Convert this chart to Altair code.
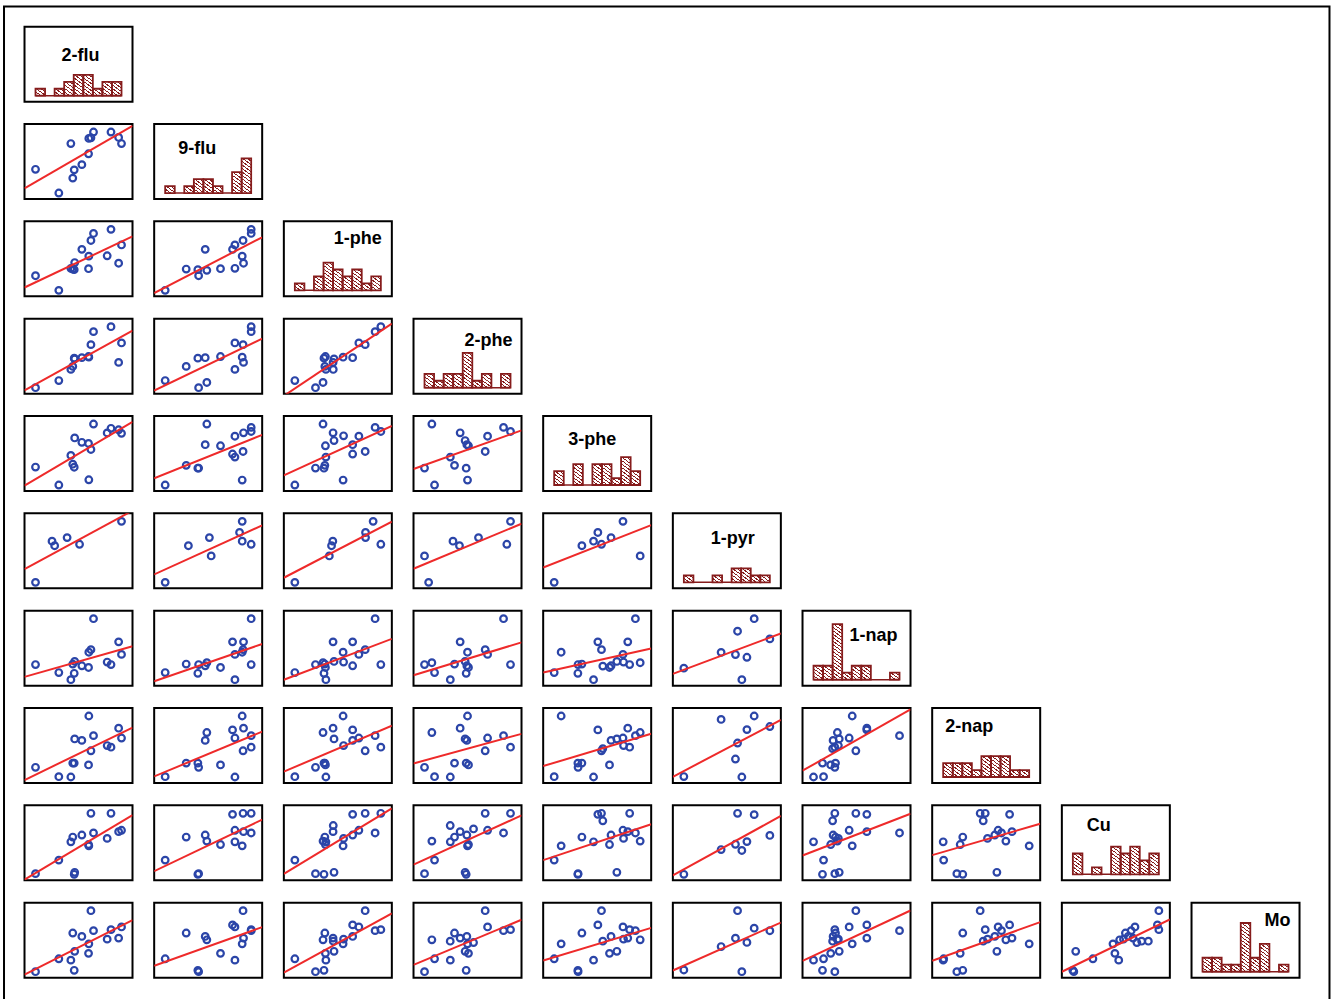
import altair as alt
import pandas as pd

# Lower-triangle scatterplot matrix of PAH metabolites and metals,
# with a histogram of each variable on the diagonal.

labels = ["2-flu", "9-flu", "1-phe", "2-phe", "3-phe", "1-pyr", "1-nap", "2-nap", "Cu", "Mo"]
keys = ["flu2", "flu9", "phe1", "phe2", "phe3", "pyr1", "nap1", "nap2", "cu", "mo"]

N = None  # not measured
flu2 = [5.8, N, 7.9, 9.0, 6.07, 3.9, 8.7, N, N, 5.58, N, 5.55, 3.7, 2.44, 4.1, 4.05, 0.0, 7.5, 4.85, N]
flu9 = [8.15, 7.05, 9.0, 7.3, 9.0, 2.2, 8.2, N, N, 8.06, 4.36, 5.79, 7.3, 0.0, N, 3.42, 3.5, N, 4.19, N]
phe1 = [7.36, 6.05, 9.0, 6.7, 8.4, 3.14, 4.0, 4.02, N, 5.05, 2.95, 3.2, 3.25, 0.0, 4.1, 3.05, 2.16, 5.1, 6.05, N]
phe2 = [6.35, N, 9.0, 6.6, 8.27, 3.14, 3.73, 2.69, N, 4.5, 0.77, 4.6, 2.7, 1.05, 4.25, 4.36, 0.0, N, 4.43, 5.13]
phe3 = [4.95, 4.57, 7.9, 7.2, 8.5, 2.9, 7.7, N, 5.09, 0.73, 9.0, 5.79, 4.12, 0.0, 6.56, 2.48, 2.5, 7.26, 5.95, N]
pyr1 = [5.62, 7.36, N, 9.0, N, 5.4, N, N, N, N, 3.9, N, 6.07, 0.0, N, N, N, N, 6.6, N]
nap1 = [4.43, 5.58, 2.23, 3.73, 9.0, 2.3, 5.58, N, 2.0, 4.05, 2.5, 1.8, 0.0, 1.05, 2.69, 0.94, 2.23, 2.6, 2.05, N]
nap2 = [3.87, 6.95, 4.4, 5.75, 6.1, 2.05, 7.2, N, 4.19, 9.0, 6.56, 1.78, 0.0, 0.05, 5.62, 2.05, 1.43, 4.64, 5.4, N]
cu = [9.0, 8.85, 9.0, 6.5, 6.1, 5.5, 6.3, 7.2, 7.9, 4.2, 4.9, 4.4, 4.8, 2.1, 0.3, 0.0, 0.1, 5.3, 5.8, 6.7]
mo = [9.0, 6.9, 6.2, 6.6, 6.05, 5.7, 4.95, 4.5, 4.5, 4.1, 4.7, 2.7, 1.7, 1.9, 3.0, 0.2, 0.0, 4.8, 5.2, 4.3]

columns = [flu2, flu9, phe1, phe2, phe3, pyr1, nap1, nap2, cu, mo]
df = pd.DataFrame({k: pd.Series(v, dtype="float64") for k, v in zip(keys, columns)})

# label placement inside each diagonal panel (centre x, baseline y)
label_pos = {
    "2-flu": (56, 34), "9-flu": (43, 30), "1-phe": (74, 23), "2-phe": (75, 27),
    "3-phe": (49, 29), "1-pyr": (60, 31), "1-nap": (71, 30), "2-nap": (37, 24),
    "Cu": (37, 26), "Mo": (86, 23),
}

W, H = 108, 75
BLUE = "#2b45a8"
RED = "#ee2a2a"
DARK = "#861c1c"
BINS = 9
PX_PER_COUNT = 6.95

stops = []
for k in range(4):
    s = k / 4
    stops += [
        alt.GradientStop(color=DARK, offset=s),
        alt.GradientStop(color=DARK, offset=s + 0.08),
        alt.GradientStop(color="white", offset=s + 0.08),
        alt.GradientStop(color="white", offset=s + 0.25),
    ]
HATCH = alt.LinearGradient(gradient="linear", stops=stops, x1=0, y1=1, x2=1, y2=0)


def padded(vals, lo_px, hi_px, span_px):
    a, b = float(min(vals)), float(max(vals))
    s = b - a
    return [a - s * lo_px / span_px, b + s * hi_px / span_px]


def scatter(i, j):
    xk, yk = keys[j], keys[i]
    both = df[[xk, yk]].dropna()
    xd = padded(both[xk], 11, 11, W - 22)
    yd = padded(both[yk], 6, 8, H - 14)
    base = alt.Chart(df).transform_filter(f"isValid(datum.{xk}) && isValid(datum.{yk})")
    x = alt.X(f"{xk}:Q", scale=alt.Scale(domain=xd, nice=False, zero=False), axis=None)
    y = alt.Y(f"{yk}:Q", scale=alt.Scale(domain=yd, nice=False, zero=False), axis=None)
    pts = base.mark_point(shape="circle", filled=False, color=BLUE, size=44,
                          strokeWidth=2.2, opacity=1).encode(x=x, y=y)
    fit = base.transform_regression(xk, yk, extent=xd).mark_line(
        color=RED, strokeWidth=2, clip=True).encode(x=x, y=y)
    return alt.layer(pts, fit).properties(width=W, height=H)


def hist(i, with_frame=False):
    k = keys[i]
    vals = df[k].dropna()
    vmin, vmax = float(vals.min()), float(vals.max())
    step = (vmax - vmin) / BINS
    xd = padded(vals, 11, 11, W - 22)
    xsc = alt.Scale(domain=xd, nice=False, zero=False)
    lo = -6 / PX_PER_COUNT
    ysc = alt.Scale(domain=[lo, lo + H / PX_PER_COUNT], nice=False, zero=False)

    base = (
        alt.Chart(df)
        .transform_filter(f"isValid(datum.{k})")
        .transform_calculate(bin=f"min(floor((datum.{k} - {vmin}) / {step}), {BINS - 1})")
        .transform_calculate(b0=f"{vmin} + datum.bin * {step}",
                             b1=f"{vmin} + (datum.bin + 1) * {step}")
    )
    floor_line = alt.Chart(alt.Data(values=[{}])).mark_rule(color=DARK, strokeWidth=1.5).encode(
        x=alt.X(datum=vmin, type="quantitative", scale=xsc, axis=None),
        x2=alt.datum(vmax),
        y=alt.Y(datum=0, type="quantitative", scale=ysc, axis=None),
    )
    cells = (
        base.transform_window(cell="row_number()", groupby=["bin"])
        .transform_calculate(c0="datum.cell - 1")
        .mark_rect(fill=HATCH, strokeWidth=0)
        .encode(
            x=alt.X("b0:Q", scale=xsc, axis=None), x2="b1:Q",
            y=alt.Y("c0:Q", scale=ysc, axis=None), y2="cell:Q",
        )
    )
    outline = (
        base.transform_aggregate(n="count()", groupby=["bin", "b0", "b1"])
        .transform_calculate(z="0")
        .mark_rect(fill="transparent", stroke=DARK, strokeWidth=1.8)
        .encode(
            x=alt.X("b0:Q", scale=xsc, axis=None), x2="b1:Q",
            y=alt.Y("z:Q", scale=ysc, axis=None), y2="n:Q",
        )
    )
    lx, ly = label_pos[labels[i]]
    title = alt.Chart(alt.Data(values=[{"t": labels[i]}])).mark_text(
        align="center", baseline="alphabetic", font="Liberation Sans",
        fontSize=18, fontWeight="bold", color="black",
    ).encode(text="t:N", x=alt.value(lx), y=alt.value(ly))
    layers = [floor_line, cells, outline, title]
    if with_frame:
        layers.append(
            alt.Chart(alt.Data(values=[{}])).mark_rect(
                fill="transparent", stroke="black", strokeWidth=2
            ).encode(x=alt.value(-20.5), x2=alt.value(1305),
                     y=alt.value(-20.3), y2=alt.value(990))
        )
    return alt.layer(*layers).properties(width=W, height=H)


def blank():
    return alt.Chart(alt.Data(values=[{}])).mark_point(opacity=0).encode(
        x=alt.value(0), y=alt.value(0)
    ).properties(width=W, height=H, view=alt.ViewBackground(stroke="transparent"))


panels = []
for i in range(len(keys)):
    for j in range(len(keys)):
        if j < i:
            panels.append(scatter(i, j))
        elif j == i:
            panels.append(hist(i, with_frame=(i == 0)))
        else:
            panels.append(blank())

chart = (
    alt.concat(*panels, columns=len(keys), spacing={"row": 22.33, "column": 21.67}, bounds="flush")
    .properties(padding={"left": 1.5, "top": 3.7, "right": 2, "bottom": 0}, background="white")
    .configure_view(stroke="black", strokeWidth=2)
)

chart.save("out.html", embed_options={"renderer": "svg", "actions": False})
